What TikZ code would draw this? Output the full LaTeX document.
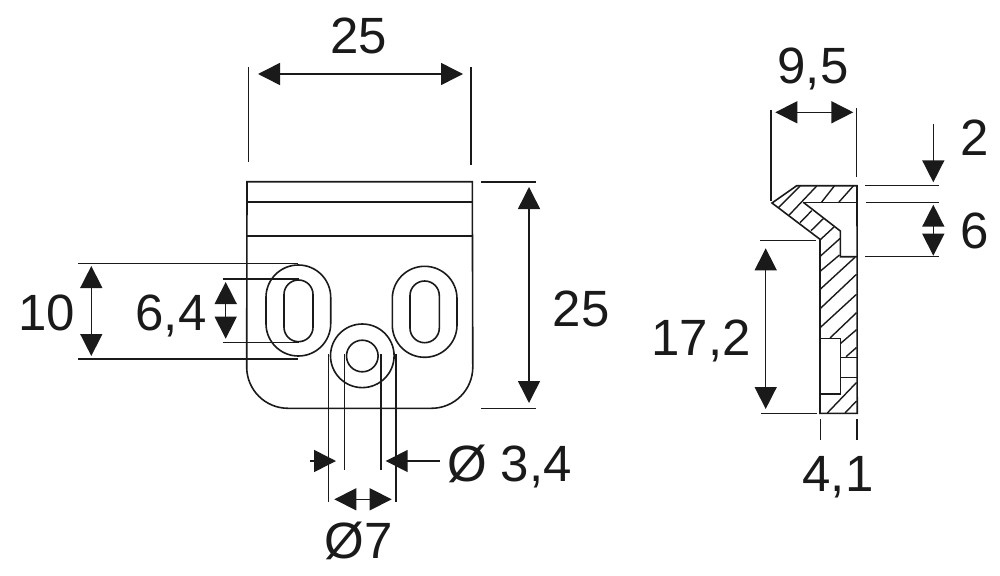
\documentclass[tikz,border=0pt]{standalone}
\usepackage{fontspec}
\setmainfont{Liberation Sans}
\usetikzlibrary{arrows.meta}
\definecolor{ink}{HTML}{1A1A1A}
\tikzset{
  part/.style={draw=ink,line width=1.6pt,line join=miter},
  hatch/.style={draw=ink,line width=1.4pt},
  ext/.style={draw=ink,line width=1.5pt},
  dim/.style={draw=ink,line width=1.5pt,{Triangle[length=22pt,width=22pt]}-{Triangle[length=22pt,width=22pt]}},
  dimend/.style={draw=ink,line width=1.5pt,-{Triangle[length=22pt,width=22pt]}},
  lbl/.style={text=ink,font=\fontsize{51pt}{51pt}\selectfont,anchor=base,inner sep=0pt,outer sep=0pt},
}
\begin{document}
\begin{tikzpicture}[x=1pt,y=-1pt]
\useasboundingbox (0,0) rectangle (1000,575);
% front view
\draw[part] (247,181.7) -- (472.3,181.7) -- (472.8,367) arc[start angle=0,end angle=90,radius=41.3] -- (288,408.3) arc[start angle=90,end angle=180,radius=41.3] -- cycle;
\draw[part] (247,202) -- (472.4,202);
\draw[part] (247,235.7) -- (472.4,235.7);
\draw[part,rounded corners=32.3pt] (266,265) rectangle (330.7,356);
\draw[part,rounded corners=14.5pt] (284,280) rectangle (313,341.7);
\draw[part,rounded corners=32.3pt] (392.3,266.3) rectangle (457,357.3);
\draw[part,rounded corners=14.6pt] (410,281) rectangle (439.3,342.7);
\draw[part] (362.3,355.8) circle[radius=31.8];
\draw[part] (362.3,356) circle[radius=15.8];
% front extension lines
\draw[ext] (248.5,67) -- (248.5,162);
\draw[ext] (471,67) -- (471,165);
\draw[ext] (481,182) -- (536,182);
\draw[ext] (481,408.5) -- (536,408.5);
\draw[ext] (78,263.7) -- (297.7,263.7);
\draw[ext] (78,358.8) -- (298,358.8);
\draw[ext] (222.7,279) -- (299,279);
\draw[ext] (222.7,342.7) -- (299,342.7);
\draw[ext] (328.3,354) -- (328.3,501.7);
\draw[ext] (396,354) -- (396,501.7);
\draw[ext] (344.3,354) -- (344.3,470);
\draw[ext] (381,354) -- (381,470);
% front dimensions
\draw[dim] (258,74) -- (463,74);
\draw[dim] (529,187) -- (529,403);
\draw[dim] (91.3,266) -- (91.3,356);
\draw[dim] (225.7,282) -- (225.7,338.7);
\draw[dimend] (310,461) -- (336,461);
\draw[dimend] (440,461) -- (385.7,461);
\draw[dim] (334.3,499.3) -- (391.7,499.3);
% side view
\draw[part] (772,203) -- (796.7,185.7) -- (857,185.7) -- (857.2,413.3) -- (820,413.3) -- (820,239.3) -- cycle;
\draw[part] (803.3,202.3) -- (857,202.3);
\draw[part] (803.3,202.3) -- (840.3,231) -- (840.3,256.7) -- (857,256.7);
\draw[part] (820,338.3) rectangle (840.3,394);
\draw[part] (840.3,357.3) -- (857,357.3);
\draw[part] (840.3,377.3) -- (857,377.3);
% hatching
\foreach \a/\b/\c/\d in {
  778.3/207.7/800/186,
  789.2/215/816.7/186,
  821.7/202/834.3/186,
  839/202/853.3/186,
  800/222.7/811.7/210.7,
  811/230.7/823.3/218.7,
  820.5/239.5/834/227,
  820.5/256/840/238.5,
  820.5/271/839.5/255,
  820.5/289/855/257.3,
  820.5/308.3/856.5/274.3,
  820.5/327.3/856.5/294.3,
  830/338/856.5/312.7,
  840.7/343.3/856.5/329.7,
  846/356.7/856.5/347.5,
  827.3/413/856.5/382.5,
  845/413/856.5/401}
  \draw[hatch] (\a,\b) -- (\c,\d);
% side extension lines
\draw[ext] (771,110) -- (771,201);
\draw[ext] (856.7,108) -- (856.7,177);
\draw[ext] (865,185.7) -- (938.7,185.7);
\draw[ext] (865.7,202.3) -- (939,202.3);
\draw[ext] (865.3,256.7) -- (938.7,256.7);
\draw[ext] (760.3,240.7) -- (816,240.7);
\draw[ext] (761.3,413.3) -- (817,413.3);
\draw[ext] (820.3,419.3) -- (820.3,440);
\draw[ext] (857,419.3) -- (857,440);
% side dimensions
\draw[dim] (775.3,112.3) -- (853.3,112.3);
\draw[dimend] (933.3,124) -- (933.3,182.3);
\draw[dim] (933.3,204.7) -- (933.3,255.7);
\draw[dim] (765.7,248.3) -- (765.7,409);
% labels
\node[lbl] (t25a) at (359,54) {25};
\node[lbl] (t10) at (47,330) {10};
\node[lbl] (t64) at (171,330) {6,4};
\node[lbl] (t25b) at (581,326) {25};
\node[lbl,anchor=base west] (t34) at (447,481) {Ø 3,4};
\node[lbl] (t7) at (359,558) {Ø7};
\node[lbl] (t95) at (813,84) {9,5};
\node[lbl] (t2) at (975,155) {2};
\node[lbl] (t6) at (975,248) {6};
\node[lbl] (t172) at (701,355) {17,2};
\node[lbl] (t41) at (838,491) {4,1};
\end{tikzpicture}
\end{document}
